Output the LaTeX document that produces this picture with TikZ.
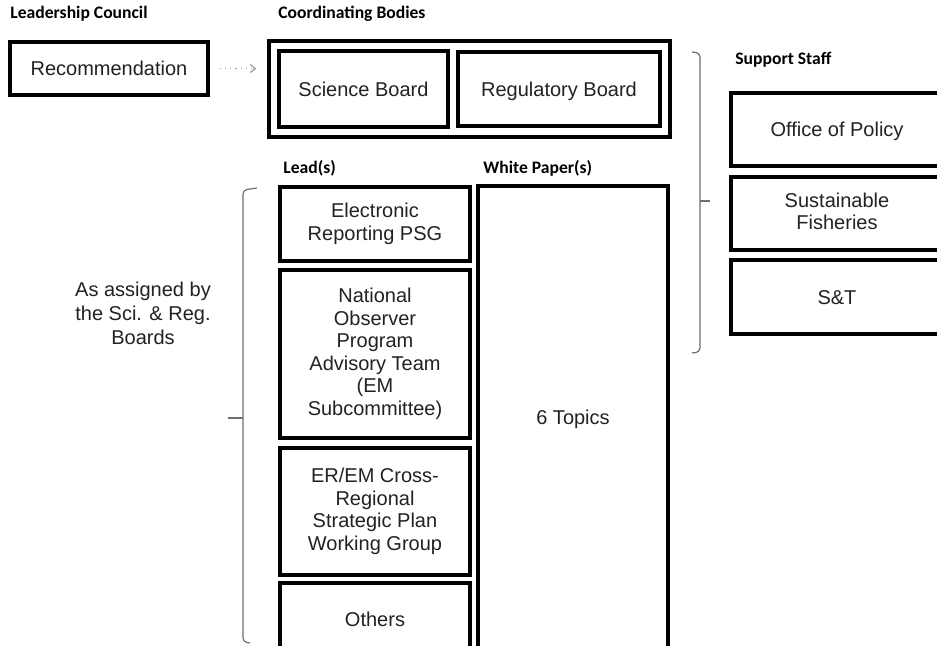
\documentclass[tikz,border=0pt]{standalone}
\usepackage{fontspec}
\usepackage{xcolor}
\usepackage{tikz}
\setmainfont{Liberation Sans}
\newfontfamily\headfont{Carlito}
\usetikzlibrary{arrows.meta, positioning}
\definecolor{boxtext}{HTML}{222222}
\definecolor{bracegray}{HTML}{6E6E6E}

% even struts, so one-line and many-line labels sit centred
\newcommand{\topstrut}{\rule{0pt}{9.4pt}}
\newcommand{\botstrut}{\rule[-2.2pt]{0pt}{2.2pt}}

\tikzset{
  orgbox/.style={draw=black, line width=1.8pt, align=center, text=boxtext,
    font=\fontsize{10}{11.3}\selectfont, inner sep=2pt,
    execute at begin node=\topstrut, execute at end node=\botstrut},
  heading/.style={anchor=west, inner sep=0pt, font=\headfont\bfseries\fontsize{8.8}{10}\selectfont},
  grouper/.style={draw=bracegray, line width=0.6pt, rounded corners=2pt},
}

\begin{document}
\begin{tikzpicture}[x=0.5pt, y=-0.5pt]
    \clip (0,0) rectangle (937,645);
    \fill[white] (0,0) rectangle (937,645);

    % column titles
    \node[heading] (hlead) at (10,14) {Leadership Council};
    \node[heading] (hcoord) at (278,14) {Coordinating Bodies};
    \node[heading] (hsupp) at (735,60) {Support Staff};
    \node[heading] (hleads) at (283,168) {Lead(s)};
    \node[heading] (hpaper) at (483,168) {White Paper(s)};

    % leadership council
    \node[orgbox, minimum width=99pt, minimum height=26.5pt] (rec) at (109,68.5) {Recommendation};

    % coordinating bodies
    \node[orgbox, minimum width=200.5pt, minimum height=48pt] (bodies) at (469.5,89) {};
    \node[orgbox, minimum width=84.5pt, minimum height=38pt] (sci) at (363.5,89) {Science Board};
    \node[orgbox, minimum width=101pt, minimum height=37pt] (reg) at (559,89) {Regulatory Board};

    \draw[bracegray!70, dotted, line width=0.6pt, -{Straight Barb[length=2.5pt,width=4pt]},
          shorten <=5pt, shorten >=5.5pt] (rec.east) -- (bodies.west |- rec.east);

    % leads
    \node[orgbox, minimum width=95pt, minimum height=37pt] (erp) at (375,224) {Electronic\\Reporting PSG};
    \node[orgbox, minimum width=95pt, minimum height=84pt] (nop) at (375,354)
      {National\\Observer\\Program\\Advisory Team\\(EM\\Subcommittee)};
    \node[orgbox, minimum width=95pt, minimum height=63.5pt] (erem) at (375,511.5)
      {ER/EM Cross-\\Regional\\Strategic Plan\\Working Group};
    \node[orgbox, minimum width=95pt, minimum height=36pt] (others) at (375,619) {Others};

    % white papers
    \node[orgbox, minimum width=95pt, minimum height=231pt] (topics) at (573,417) {6 Topics};

    % support staff
    \node[orgbox, minimum width=106pt, minimum height=36.5pt] (policy) at (837,129.5) {Office of Policy};
    \node[orgbox, minimum width=106pt, minimum height=36.5pt] (fish) at (837,213.5) {Sustainable\\Fisheries};
    \node[orgbox, minimum width=106pt, minimum height=37pt] (snt) at (837,297) {S\&T};

    % braces
    \draw[grouper] (257,188) -- (243,190) -- (243,418) -- (243,642) -- (250,643);
    \draw[bracegray, line width=0.6pt] (228,418) -- (243,418);
    \draw[grouper] (692,52) -- (700,53) -- (700,352) -- (692,353);
    \draw[bracegray, line width=0.6pt] (700,201) -- (710,201);

    \node[align=center, text=boxtext, font=\fontsize{10}{12}\selectfont] (assigned) at (143,313)
      {As assigned by\\the Sci. \& Reg.\\Boards};
\end{tikzpicture}
\end{document}
